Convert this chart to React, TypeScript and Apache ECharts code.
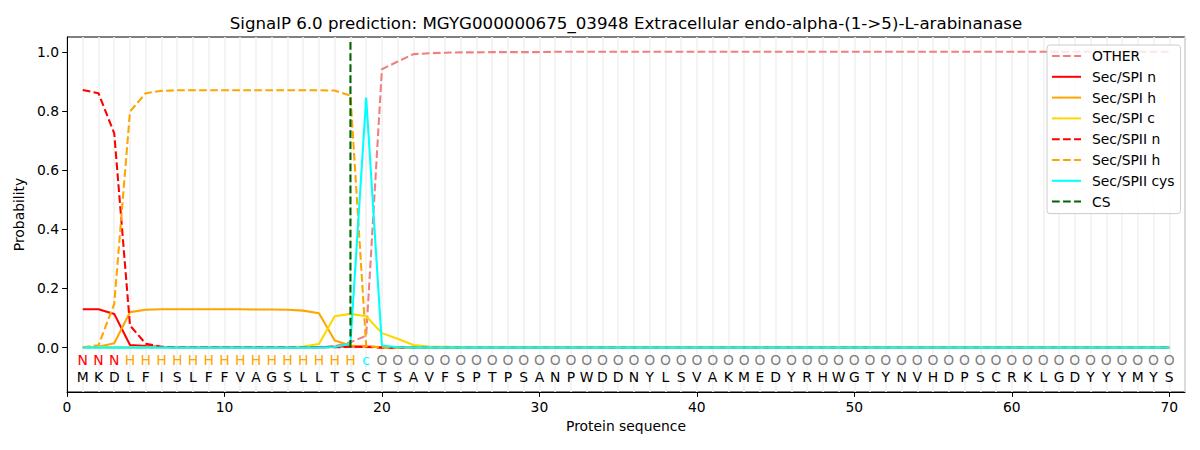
import React, { useEffect, useRef } from "react";
import * as echarts from "echarts";

const titleText =
  "SignalP 6.0 prediction: MGYG000000675_03948 Extracellular endo-alpha-(1->5)-L-arabinanase";

const sequence = "MKDLFISLFFVAGSLLTSCTSAVFSPTPSANPWDDNYLSVAKMEDYRHWGTYNVHDPSCRKLGDYYYMYS".split("");
const regionLabels = (
  "NNN" + "HHHHHHHHHHHHHHH" + "c" +
  "OOOOOOOOOO" + "OOOOOOOOOO" + "OOOOOOOOOO" + "OOOOOOOOOO" + "OOOOOOOOOO" + "O"
).split("");
const regionColors: Record<string, string> = { N: "#ff0000", H: "#ffa500", c: "#00ffff", O: "#808080" };

const seriesNames = ["OTHER", "Sec/SPI n", "Sec/SPI h", "Sec/SPI c", "Sec/SPII n", "Sec/SPII h", "Sec/SPII cys", "CS"];

const other = [
  0.001, 0.001, 0.001, 0.001, 0.001, 0.001, 0.001, 0.001, 0.001, 0.001,
  0.001, 0.001, 0.001, 0.001, 0.001, 0.002, 0.005, 0.018, 0.04, 0.941,
  0.967, 0.992, 0.995, 0.997, 0.998, 0.998, 0.999, 0.999, 0.999, 0.999,
  1, 1, 1, 1, 1, 1, 1, 1, 1, 1,
  1, 1, 1, 1, 1, 1, 1, 1, 1, 1,
  1, 1, 1, 1, 1, 1, 1, 1, 1, 1,
  1, 1, 1, 1, 1, 1, 1, 1, 1, 1,
];
const spiN = [
  0.13, 0.13, 0.114, 0.009, 0.005, 0.002, 0.001, 0.001, 0.001, 0.001,
  0.001, 0.001, 0.001, 0.001, 0.001, 0.001, 0.003, 0.005, 0.004, 0.001,
  0, 0, 0, 0, 0, 0, 0, 0, 0, 0,
  0, 0, 0, 0, 0, 0, 0, 0, 0, 0,
  0, 0, 0, 0, 0, 0, 0, 0, 0, 0,
  0, 0, 0, 0, 0, 0, 0, 0, 0, 0,
  0, 0, 0, 0, 0, 0, 0, 0, 0, 0,
];
const spiH = [
  0.001, 0.003, 0.015, 0.12, 0.128, 0.13, 0.13, 0.13, 0.13, 0.13,
  0.13, 0.129, 0.129, 0.128, 0.125, 0.116, 0.024, 0.007, 0.003, 0.001,
  0, 0, 0, 0, 0, 0, 0, 0, 0, 0,
  0, 0, 0, 0, 0, 0, 0, 0, 0, 0,
  0, 0, 0, 0, 0, 0, 0, 0, 0, 0,
  0, 0, 0, 0, 0, 0, 0, 0, 0, 0,
  0, 0, 0, 0, 0, 0, 0, 0, 0, 0,
];
const spiC = [
  0.001, 0.001, 0.001, 0.001, 0.001, 0.001, 0.001, 0.001, 0.001, 0.001,
  0.001, 0.001, 0.001, 0.001, 0.004, 0.012, 0.106, 0.114, 0.106, 0.049,
  0.03, 0.009, 0.004, 0.003, 0.002, 0.002, 0.002, 0.002, 0.002, 0.002,
  0.001, 0.001, 0.001, 0.001, 0.001, 0.001, 0.001, 0.001, 0.001, 0.001,
  0.001, 0.001, 0.001, 0.001, 0.001, 0.001, 0.001, 0.001, 0.001, 0.001,
  0.001, 0.001, 0.001, 0.001, 0.001, 0.001, 0.001, 0.001, 0.001, 0.001,
  0.001, 0.001, 0.001, 0.001, 0.001, 0.001, 0.001, 0.001, 0.001, 0.001,
];
const spiiN = [
  0.871, 0.86, 0.724, 0.075, 0.013, 0.003, 0.001, 0.001, 0.001, 0.001,
  0.001, 0.001, 0.001, 0.001, 0.001, 0.001, 0.001, 0.003, 0.002, 0,
  0, 0, 0, 0, 0, 0, 0, 0, 0, 0,
  0, 0, 0, 0, 0, 0, 0, 0, 0, 0,
  0, 0, 0, 0, 0, 0, 0, 0, 0, 0,
  0, 0, 0, 0, 0, 0, 0, 0, 0, 0,
  0, 0, 0, 0, 0, 0, 0, 0, 0, 0,
];
const spiiH = [
  0.001, 0.008, 0.148, 0.798, 0.86, 0.868, 0.87, 0.87, 0.87, 0.87,
  0.87, 0.87, 0.87, 0.87, 0.87, 0.87, 0.869, 0.852, 0.005, 0.001,
  0, 0, 0, 0, 0, 0, 0, 0, 0, 0,
  0, 0, 0, 0, 0, 0, 0, 0, 0, 0,
  0, 0, 0, 0, 0, 0, 0, 0, 0, 0,
  0, 0, 0, 0, 0, 0, 0, 0, 0, 0,
  0, 0, 0, 0, 0, 0, 0, 0, 0, 0,
];
const spiiCys = [
  0, 0, 0, 0, 0, 0, 0, 0, 0, 0,
  0, 0, 0, 0, 0, 0, 0.002, 0.013, 0.845, 0.007,
  0.001, 0, 0, 0, 0, 0, 0, 0, 0, 0,
  0, 0, 0, 0, 0, 0, 0, 0, 0, 0,
  0, 0, 0, 0, 0, 0, 0, 0, 0, 0,
  0, 0, 0, 0, 0, 0, 0, 0, 0, 0,
  0, 0, 0, 0, 0, 0, 0, 0, 0, 0,
];
const csPosition = 18;
const csLine = [0, 1.04];

const xTicks = [0, 10, 20, 30, 40, 50, 60, 70];
const yTicks = [0, 0.2, 0.4, 0.6, 0.8, 1.0];
const regionLabelY = -0.042;
const letterY = -0.1;

const FONT = "DejaVu Sans";
const FS = 13.89;
const LW = 2.08;
const DASH = [7.7, 3.33];

function toPoints(vals: number[]) {
  return vals.map((v, i) => [i + 1, v]);
}

function lineSeries(name: string, vals: number[], color: string, dashed: boolean) {
  return {
    name,
    type: "line",
    data: toPoints(vals),
    symbol: "none",
    showSymbol: false,
    lineStyle: { color, width: LW, type: dashed ? DASH : "solid" },
    itemStyle: { color },
    xAxisIndex: 0,
    yAxisIndex: 0,
    z: 3,
  };
}

export default function App() {
  const ref = useRef<HTMLDivElement>(null);
  useEffect(() => {
    document.body.style.margin = "0";
    if (!ref.current) return;
    const chart = echarts.init(ref.current, null, { renderer: "svg" });
    const option: any = {
      animation: false,
      backgroundColor: "#ffffff",
      textStyle: { fontFamily: FONT },
      grid: {
        left: 67, right: 15, top: 37, bottom: 58,
        show: true, borderColor: "#000000", borderWidth: 1, backgroundColor: "transparent",
      },
      graphic: [
        {
          type: "text",
          x: 626,
          y: 23,
          style: {
            text: titleText,
            fill: "#000000",
            font: `16.67px ${FONT}`,
            align: "center",
            verticalAlign: "middle",
          },
        },
      ],
      legend: {
        orient: "vertical",
        left: 1047,
        top: 45,
        padding: [4, 6, 5, 4],
        itemWidth: 29,
        itemHeight: 4,
        itemGap: 6.8,
        backgroundColor: "rgba(255,255,255,0.8)",
        borderColor: "#cccccc",
        borderWidth: 1,
        borderRadius: 3,
        itemStyle: { opacity: 0, borderWidth: 0 },
        textStyle: { fontFamily: FONT, fontSize: FS, color: "#000000", padding: [0, 0, 0, 6] },
        data: seriesNames,
      },
      xAxis: [
        {
          type: "value",
          min: 0,
          max: 71,
          position: "bottom",
          name: "Protein sequence",
          nameLocation: "middle",
          nameGap: 27,
          nameTextStyle: { fontFamily: FONT, fontSize: FS, color: "#000000" },
          axisLine: { show: true, onZero: false, lineStyle: { color: "#000000", width: 1 } },
          axisTick: { show: true, length: 4.86, lineStyle: { color: "#000000" }, customValues: xTicks },
          axisLabel: {
            customValues: xTicks,
            margin: 8,
            fontFamily: FONT,
            fontSize: FS,
            color: "#000000",
            formatter: (v: number) => String(v),
          },
          splitLine: { show: false },
        },
        {
          type: "value",
          min: 0,
          max: 71,
          interval: 1,
          position: "bottom",
          axisLine: { show: false },
          axisTick: { show: false },
          axisLabel: { show: false },
          splitLine: { show: true, lineStyle: { color: "#f2f2f2", width: 1.6 } },
        },
      ],
      yAxis: [
        {
          type: "value",
          min: -0.15,
          max: 1.05,
          name: "Probability",
          nameLocation: "middle",
          nameGap: 35,
          nameRotate: 90,
          nameTextStyle: { fontFamily: FONT, fontSize: FS, color: "#000000" },
          axisLine: { show: true, onZero: false, lineStyle: { color: "#000000", width: 1 } },
          axisTick: { show: true, length: 4.86, lineStyle: { color: "#000000" }, customValues: yTicks },
          axisLabel: {
            customValues: yTicks,
            margin: 8,
            fontFamily: FONT,
            fontSize: FS,
            color: "#000000",
            formatter: (v: number) => v.toFixed(1),
          },
          splitLine: { show: false },
        },
      ],
      series: [
        lineSeries("OTHER", other, "#f08080", true),
        lineSeries("Sec/SPI n", spiN, "#ff0000", false),
        lineSeries("Sec/SPI h", spiH, "#ffa500", false),
        lineSeries("Sec/SPI c", spiC, "#ffd700", false),
        lineSeries("Sec/SPII n", spiiN, "#ff0000", true),
        lineSeries("Sec/SPII h", spiiH, "#ffa500", true),
        lineSeries("Sec/SPII cys", spiiCys, "#00ffff", false),
        {
          name: "CS",
          type: "line",
          data: csLine.map((y) => [csPosition, y]),
          symbol: "none",
          showSymbol: false,
          lineStyle: { color: "#006400", width: LW, type: DASH },
          itemStyle: { color: "#006400" },
          z: 4,
        },
        {
          name: "regions",
          type: "custom",
          xAxisIndex: 0,
          yAxisIndex: 0,
          data: regionLabels.map((_, i) => [i + 1, regionLabelY]),
          renderItem: (params: any, api: any) => {
            const p = api.coord([api.value(0), api.value(1)]);
            const lab = regionLabels[params.dataIndex];
            return {
              type: "text",
              x: p[0],
              y: p[1],
              style: {
                text: lab,
                fill: regionColors[lab],
                font: `${FS}px ${FONT}`,
                align: "center",
                verticalAlign: "middle",
              },
            };
          },
          z: 5,
        },
        {
          name: "letters",
          type: "custom",
          xAxisIndex: 0,
          yAxisIndex: 0,
          data: sequence.map((_, i) => [i + 1, letterY]),
          renderItem: (params: any, api: any) => {
            const p = api.coord([api.value(0), api.value(1)]);
            return {
              type: "text",
              x: p[0],
              y: p[1],
              style: {
                text: sequence[params.dataIndex],
                fill: "#000000",
                font: `${FS}px ${FONT}`,
                align: "center",
                verticalAlign: "middle",
              },
            };
          },
          z: 5,
        },
      ],
    };
    chart.setOption(option);
    return () => chart.dispose();
  }, []);
  return <div ref={ref} style={{ width: 1200, height: 450 }} />;
}
